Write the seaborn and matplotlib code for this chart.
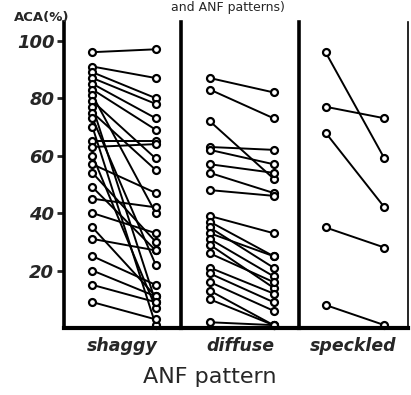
import matplotlib
matplotlib.use("Agg")
import matplotlib.pyplot as plt
import seaborn as sns
import pandas as pd

# ---- data (ACA % before / after, per ANF pattern) ----
categories = ["shaggy", "diffuse", "speckled"]

shaggy_before = [96, 91, 89, 87, 85, 83, 81, 79, 77, 75, 73, 70, 65, 63, 60, 57,
                 54, 49, 45, 40, 35, 31, 25, 20, 15, 9]
shaggy_after = [97, 87, 80, 78, 73, 69, 40, 59, 9, 55, 22, 1, 65, 64, 7, 47,
                30, 27, 42, 33, 11, 27, 15, 11, 9, 3]

diffuse_before = [87, 83, 72, 63, 62, 57, 54, 48, 39, 37, 35, 33, 31, 29, 26, 21,
                  19, 16, 13, 10, 2]
diffuse_after = [82, 73, 52, 62, 57, 54, 47, 46, 33, 25, 21, 25, 18, 14, 16, 12,
                 9, 6, 1, 1, 1]

speckled_before = [96, 77, 68, 35, 8]
speckled_after = [59, 73, 42, 28, 1]

yticks = [20, 40, 60, 80, 100]
ylabel = "ACA(%)"
xlabel = "ANF pattern"
top_text = "and ANF patterns)"

series = {
    "shaggy": (shaggy_before, shaggy_after),
    "diffuse": (diffuse_before, diffuse_after),
    "speckled": (speckled_before, speckled_after),
}

W, H = 411, 395
fig = plt.figure(figsize=(W / 100, H / 100), dpi=100)
sns.set_style("white")
plt.rcParams["font.family"] = ["DejaVu Sans"]

left, right = 64 / W, 408 / W
bottom, top = 1 - 328 / H, 1 - 22 / H
gs = fig.add_gridspec(1, 3, left=left, right=right, bottom=bottom, top=top,
                      wspace=0, width_ratios=[116, 117, 108])

axes = []
for i, cat in enumerate(categories):
    ax = fig.add_subplot(gs[0, i])
    b, a = series[cat]
    rows = []
    for k, (vb, va) in enumerate(zip(b, a)):
        rows.append({"pair": k, "time": 0, "aca": vb})
        rows.append({"pair": k, "time": 1, "aca": va})
    df = pd.DataFrame(rows)
    sns.lineplot(data=df, x="time", y="aca", units="pair", estimator=None,
                 color="black", lw=1.4, marker="o", markersize=5,
                 markerfacecolor="white", markeredgecolor="black",
                 markeredgewidth=1.6, ax=ax, clip_on=False, legend=False)
    ax.set_xlim(-0.45, 1.4)
    ax.set_ylim(0, 106.5)
    ax.set_xticks([])
    ax.set_xlabel("")
    ax.set_ylabel("")
    ax.spines["top"].set_visible(False)
    ax.spines["bottom"].set_linewidth(3)
    ax.spines["left"].set_linewidth(2.6)
    ax.spines["right"].set_visible(False)
    for s in ax.spines.values():
        s.set_color("black")
    if i == 0:
        ax.set_yticks(yticks)
        ax.set_yticklabels([str(t) for t in yticks], fontsize=13,
                           fontweight="bold", fontstyle="italic")
        ax.tick_params(axis="y", length=5, width=2, direction="out",
                       pad=2, left=True)
    else:
        ax.set_yticks([])
    if i == 2:
        ax.spines["right"].set_visible(True)
        ax.spines["right"].set_linewidth(1.2)
    ax.text(0.5, -0.06, cat, transform=ax.transAxes, ha="center", va="center",
            fontsize=12.5, fontstyle="italic", fontweight="bold")
    axes.append(ax)

fig.text(210 / W, 1 - 377 / H, xlabel, ha="center", va="center", fontsize=16)
fig.text(42 / W, 1 - 18 / H, ylabel, ha="center", va="center", fontsize=9.5,
         fontweight="bold")
fig.text(228 / W, 1 - 7 / H, top_text, ha="center", va="center", fontsize=9)

fig.savefig("out.png", dpi=100)
